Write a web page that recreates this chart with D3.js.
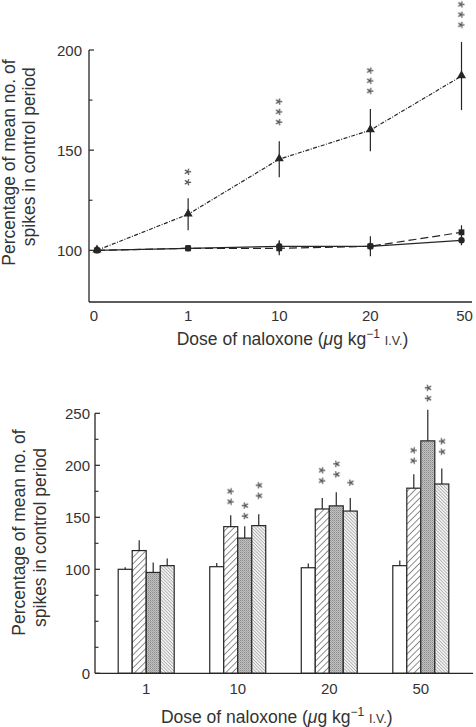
<!DOCTYPE html>
<html>
<head>
<meta charset="utf-8">
<script src="https://cdn.jsdelivr.net/npm/d3@7"></script>
<style>
  html, body { margin: 0; padding: 0; background: #fff; }
  svg { display: block; }
  text { font-family: "Liberation Sans", Arial, Helvetica, sans-serif; fill: #333; }
</style>
</head>
<body>
<svg id="chart" width="476" height="727"></svg>
<script>
// ---------- DATA ----------
// Top panel (line chart)
const doses = ["0", "1", "10", "20", "50"];
const triMean = [100, 118, 145.5, 160, 187];
const triErr = [0, 8, 9, 10.5, 17];
const triStars = [0, 2, 3, 3, 3];
const triStarLevel = [null, 134, 164, 179.5, 212.5];   // value level of lowest asterisk
const circMean = [100, 101, 102, 102, 105];
const circErr = [0, 0, 3, 5, 2.5];
const sqMean = [100, 101, 101, 102, 109];
const sqErr = [0, 0.5, 3.5, 2, 3.5];
const topTicksMajor = [100, 150, 200];
const topTicksMinor = [125, 175];

// Bottom panel (bar chart)
const barDoses = ["1", "10", "20", "50"];
const barSeries = ["control", "groupA", "groupB", "groupC"];
const barControl = [100, 102.5, 101.5, 103.5];
const barControlErr = [2, 3.5, 4, 5];
const barA = [118, 141, 158, 178];
const barAErr = [10, 11, 10.5, 13.5];
const barB = [97, 130, 161, 223.5];
const barBErr = [9.5, 11.5, 13, 30];
const barC = [103.5, 142, 156, 182];
const barCErr = [7, 11, 12.5, 15];
const barStarsA = [0, 2, 2, 2];
const barStarsB = [0, 2, 2, 2];
const barStarsC = [0, 2, 1, 2];
const barStarLevelA = [null, 165, 185.2, 204.4];
const barStarLevelB = [null, 151.3, 191.3, 264.4];
const barStarLevelC = [null, 170.8, 183.3, 213.1];
const botTicksMajor = [0, 100, 150, 200, 250];
const botTicksMinor = [25, 50, 75, 125, 175, 225];

const yTitle1 = "Percentage of mean no. of";
const yTitle2 = "spikes in control period";

// ---------- DRAW ----------
const svg = d3.select("#chart");
const ink = "#262626";

// patterns
const defs = svg.append("defs");
const pA = defs.append("pattern").attr("id", "hatchA").attr("patternUnits", "userSpaceOnUse")
  .attr("width", 4.6).attr("height", 4.6).attr("patternTransform", "rotate(45)");
pA.append("rect").attr("width", 4.6).attr("height", 4.6).attr("fill", "#fff");
pA.append("line").attr("x1", 0).attr("y1", 0).attr("x2", 0).attr("y2", 4.6)
  .attr("stroke", "#333").attr("stroke-width", 1.1);
const pC = defs.append("pattern").attr("id", "hatchC").attr("patternUnits", "userSpaceOnUse")
  .attr("width", 2.3).attr("height", 2.3).attr("patternTransform", "rotate(-45)");
pC.append("rect").attr("width", 2.3).attr("height", 2.3).attr("fill", "#f2f2f2");
pC.append("line").attr("x1", 0).attr("y1", 0).attr("x2", 0).attr("y2", 2.3)
  .attr("stroke", "#666").attr("stroke-width", 0.8);
const pB = defs.append("pattern").attr("id", "stipple").attr("patternUnits", "userSpaceOnUse")
  .attr("width", 2).attr("height", 2);
pB.append("rect").attr("width", 2).attr("height", 2).attr("fill", "#c2c2c2");
pB.append("rect").attr("width", 1).attr("height", 1).attr("fill", "#8a8a8a");
pB.append("rect").attr("x", 1).attr("y", 1).attr("width", 1).attr("height", 1).attr("fill", "#a4a4a4");
// grayscale filter (removes colour fringes from rotated glyph anti-aliasing)
defs.append("filter").attr("id", "gray")
  .append("feColorMatrix").attr("type", "saturate").attr("values", 0);

// A vertical stack of n asterisks as ONE text element, laid along a rotated baseline.
// dir = +1 (rotate 90) or -1 (rotate -90) picks which side the text box extends to.
function starStack(g, cx, yLowest, n, dir) {
  if (!n) return;
  const fs = 18, step = 10.3, adv = 0.389 * fs;
  const cy = yLowest - (n - 1) * step / 2;
  const dx = [0].concat(d3.range(n - 1).map(() => step - adv));
  g.append("text")
    .attr("transform", `translate(${cx},${cy}) rotate(${dir * 90})`)
    .attr("x", 0).attr("y", 0.575 * fs).attr("dx", dx.join(" "))
    .attr("text-anchor", "middle").attr("filter", "url(#gray)")
    .style("font-size", fs + "px").style("fill", "#3a3a3a")
    .text("*".repeat(n));
}

function xTitle(g, cx, y) {
  const t = g.append("text").attr("x", cx).attr("y", y).attr("text-anchor", "middle")
    .style("font-size", "17.5px");
  t.append("tspan").text("Dose of naloxone (");
  t.append("tspan").style("font-style", "italic").text("\u03bc");
  t.append("tspan").text("g kg");
  t.append("tspan").attr("dy", -7).style("font-size", "12px").text("\u22121");
  t.append("tspan").attr("dy", 7).text(" ");
  t.append("tspan").style("font-size", "12.5px").text("I.V.");
  t.append("tspan").text(")");
}

function yTitle(g, x1, c1, x2, c2) {
  g.append("text").attr("transform", `translate(${x1},${c1}) rotate(-90)`)
    .attr("text-anchor", "middle").style("font-size", "17.5px").text(yTitle1);
  g.append("text").attr("transform", `translate(${x2},${c2}) rotate(-90)`)
    .attr("text-anchor", "middle").style("font-size", "17.5px").text(yTitle2);
}

// ===== TOP PANEL =====
{
  const g = svg.append("g");
  const x = d3.scalePoint().domain(doses).range([97, 461.5]);
  const y = d3.scaleLinear().domain([74.2, 200]).range([302, 50]);
  const x0 = 89, x1 = 472;

  // axes
  g.append("line").attr("x1", x0).attr("x2", x0).attr("y1", y(200)).attr("y2", y.range()[0])
    .attr("stroke", ink).attr("stroke-width", 1.3);
  g.append("line").attr("x1", x0).attr("x2", x1).attr("y1", y.range()[0]).attr("y2", y.range()[0])
    .attr("stroke", ink).attr("stroke-width", 1.3);
  topTicksMajor.forEach(v => {
    g.append("line").attr("x1", x0).attr("x2", x0 + 5).attr("y1", y(v)).attr("y2", y(v))
      .attr("stroke", ink).attr("stroke-width", 1.2);
    g.append("text").attr("x", x0 - 7).attr("y", y(v) + 5.5).attr("text-anchor", "end")
      .style("font-size", "15px").text(v);
  });
  topTicksMinor.forEach(v => {
    g.append("line").attr("x1", x0).attr("x2", x0 + 3.5).attr("y1", y(v)).attr("y2", y(v))
      .attr("stroke", ink).attr("stroke-width", 1.1);
  });
  doses.forEach((d, i) => {
    const nudge = i === 0 ? -3 : (i === doses.length - 1 ? 3 : 0);
    g.append("text").attr("x", x(d) + nudge).attr("y", 320.5).attr("text-anchor", "middle")
      .style("font-size", "15px").text(d);
  });

  const line = d3.line().x((d, i) => x(doses[i])).y(d => y(d));
  // square dashed
  g.append("path").attr("d", line(sqMean)).attr("fill", "none").attr("stroke", ink)
    .attr("stroke-width", 1.2).attr("stroke-dasharray", "8,4");
  // circle solid
  g.append("path").attr("d", line(circMean)).attr("fill", "none").attr("stroke", ink)
    .attr("stroke-width", 1.2);
  // triangle dash-dot
  g.append("path").attr("d", line(triMean)).attr("fill", "none").attr("stroke", ink)
    .attr("stroke-width", 1.2).attr("stroke-dasharray", "4,1.5,1,1.5");

  // error bars
  function errs(mean, err) {
    mean.forEach((m, i) => {
      if (err[i] <= 0) return;
      g.append("line").attr("x1", x(doses[i])).attr("x2", x(doses[i]))
        .attr("y1", y(m - err[i])).attr("y2", y(m + err[i]))
        .attr("stroke", ink).attr("stroke-width", 1.2);
    });
  }
  errs(triMean, triErr); errs(circMean, circErr); errs(sqMean, sqErr);

  // markers
  const tri = d3.symbol().type(d3.symbolTriangle).size(36);
  triMean.forEach((m, i) => {
    g.append("path").attr("d", tri()).attr("transform", `translate(${x(doses[i])},${y(m) - 0.5})`)
      .attr("fill", ink);
  });
  circMean.forEach((m, i) => {
    g.append("circle").attr("cx", x(doses[i])).attr("cy", y(m)).attr("r", 3.2).attr("fill", ink);
  });
  sqMean.forEach((m, i) => {
    g.append("rect").attr("x", x(doses[i]) - 2.9).attr("y", y(m) - 2.9)
      .attr("width", 5.8).attr("height", 5.8).attr("fill", ink);
  });

  // significance stars
  triStars.forEach((n, i) => {
    if (n) starStack(g, x(doses[i]), y(triStarLevel[i]), n, 1);
  });

  xTitle(g, 292.5, 345);
  yTitle(g, 14.5, 162.5, 34.5, 156.7);
}

// ===== BOTTOM PANEL =====
{
  const g = svg.append("g");
  const xc = d3.scalePoint().domain(barDoses).range([146.2, 420.8]);
  const xi = d3.scaleBand().domain(barSeries).range([-28, 28]).padding(0);
  const y = d3.scaleLinear().domain([0, 250]).range([673.3, 413.3]);
  const x0 = 95, x1 = 473;

  const series = [
    { key: "control", vals: barControl, err: barControlErr, stars: null, fill: "#fff" },
    { key: "groupA", vals: barA, err: barAErr, stars: barStarsA, level: barStarLevelA, dir: 1, fill: "url(#hatchA)" },
    { key: "groupB", vals: barB, err: barBErr, stars: barStarsB, level: barStarLevelB, dir: -1, fill: "url(#stipple)" },
    { key: "groupC", vals: barC, err: barCErr, stars: barStarsC, level: barStarLevelC, dir: -1, fill: "url(#hatchC)" }
  ];

  series.forEach(s => {
    s.vals.forEach((v, i) => {
      const bx = xc(barDoses[i]) + xi(s.key);
      g.append("rect").attr("x", bx).attr("y", y(v)).attr("width", xi.bandwidth())
        .attr("height", y(0) - y(v)).attr("fill", s.fill).attr("stroke", ink).attr("stroke-width", 1.2);
      const cx = bx + xi.bandwidth() / 2;
      g.append("line").attr("x1", cx).attr("x2", cx).attr("y1", y(v)).attr("y2", y(v + s.err[i]))
        .attr("stroke", ink).attr("stroke-width", 1.2);
      if (s.stars && s.stars[i]) starStack(g, cx, y(s.level[i]), s.stars[i], s.dir);
    });
  });

  // axes
  g.append("line").attr("x1", x0).attr("x2", x0).attr("y1", y(250)).attr("y2", y(0))
    .attr("stroke", ink).attr("stroke-width", 1.3);
  g.append("line").attr("x1", x0).attr("x2", x1).attr("y1", y(0)).attr("y2", y(0))
    .attr("stroke", ink).attr("stroke-width", 1.3);
  botTicksMajor.forEach(v => {
    g.append("line").attr("x1", x0).attr("x2", x0 + 5).attr("y1", y(v)).attr("y2", y(v))
      .attr("stroke", ink).attr("stroke-width", 1.2);
    g.append("text").attr("x", x0 - 5).attr("y", y(v) + 5.5).attr("text-anchor", "end")
      .style("font-size", "15px").text(v);
  });
  botTicksMinor.forEach(v => {
    g.append("line").attr("x1", x0).attr("x2", x0 + 3.5).attr("y1", y(v)).attr("y2", y(v))
      .attr("stroke", ink).attr("stroke-width", 1.1);
  });
  barDoses.forEach(d => {
    g.append("text").attr("x", xc(d)).attr("y", 693.5).attr("text-anchor", "middle")
      .style("font-size", "15px").text(d);
  });

  xTitle(g, 276.7, 723.3);
  yTitle(g, 25, 532.5, 45.7, 537.5);
}
</script>
</body>
</html>
